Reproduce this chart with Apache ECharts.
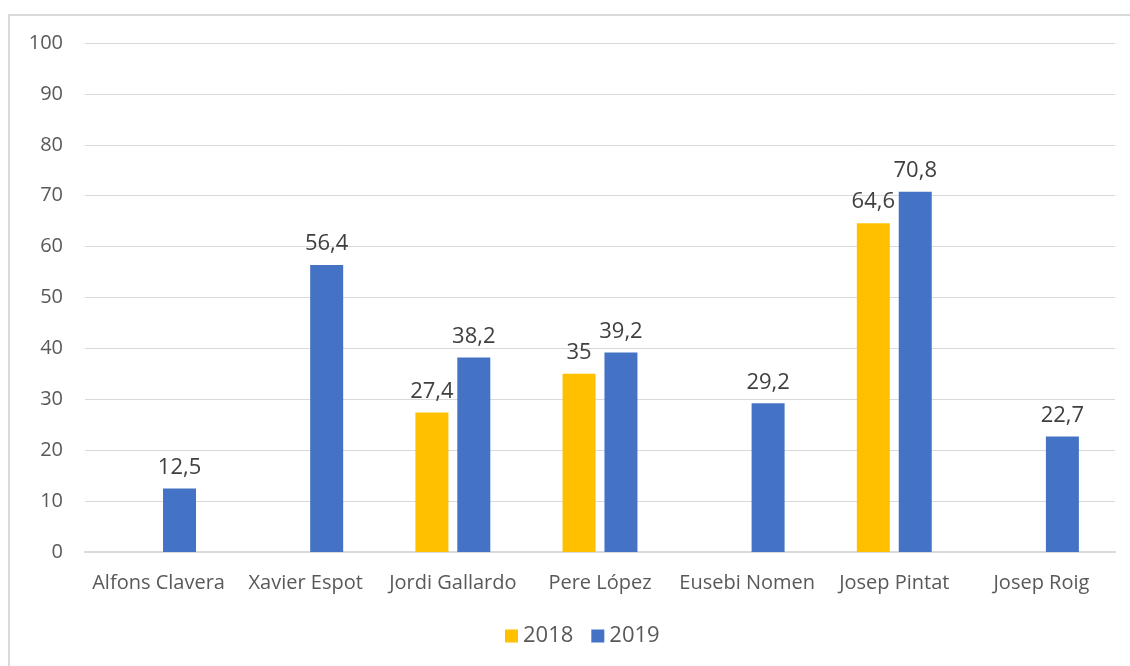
<!DOCTYPE html>
<html lang="ca" style="height: 100%">
	<head>
		<meta charset="utf-8" />
		<title></title>
		<script src="https://cdn.jsdelivr.net/npm/echarts@6/dist/echarts.min.js"></script>
	</head>
	<style>
		html,body {
			margin: 0;
			padding: 0;
			background: #FFFFFF;
		}
		#chart {
			width: 1130px;
			height: 666px;
		}
	</style>
	<body>
		<div id="chart"></div>
		<script>
			var categories = ['Alfons Clavera', 'Xavier Espot', 'Jordi Gallardo', 'Pere López', 'Eusebi Nomen', 'Josep Pintat', 'Josep Roig'];
			var years = ['2018', '2019'];
			var values2018 = [null, null, 27.4, 35, null, 64.6, null];
			var values2019 = [12.5, 56.4, 38.2, 39.2, 29.2, 70.8, 22.7];
			var colors = ['#FFC000', '#4472C4'];
			var fontName = 'Open Sans';

			// etiqueta amb coma decimal
			function fmt(p){
				return String(p.value).replace('.', ',');
			}

			function makeSeries(name, data, color){
				return {
					name: name,
					type: 'bar',
					data: data,
					barWidth: 33,
					barGap: '27%',
					itemStyle: { color: color },
					label: {
						show: true,
						position: 'top',
						distance: 10,
						formatter: fmt,
						color: '#404040',
						fontFamily: fontName,
						fontSize: 22
					}
				};
			}

			var chart = echarts.init(document.getElementById('chart'));
			chart.setOption({
				animation: false,
				grid: { left: 85, right: 15, top: 43, bottom: 114, containLabel: false },
				legend: {
					data: years,
					bottom: 14,
					left: 500,
					itemWidth: 13,
					itemHeight: 13,
					itemGap: 18,
					icon: 'rect',
					textStyle: { color: '#595959', fontFamily: fontName, fontSize: 22 }
				},
				xAxis: {
					type: 'category',
					data: categories,
					axisLine: { lineStyle: { color: '#D9D9D9', width: 2 } },
					axisTick: { show: false },
					axisLabel: { interval: 0, color: '#595959', fontFamily: fontName, fontSize: 20, margin: 21 }
				},
				yAxis: {
					type: 'value',
					min: 0,
					max: 100,
					interval: 10,
					axisLine: { show: false },
					axisTick: { show: false },
					axisLabel: { color: '#595959', fontFamily: fontName, fontSize: 20, margin: 22 },
					splitLine: { lineStyle: { color: '#D9D9D9', width: 1 } }
				},
				graphic: [{
					type: 'polyline',
					shape: { points: [[9, 666], [9, 15], [1130, 15]] },
					style: { stroke: '#D9D9D9', lineWidth: 2, fill: null },
					silent: true
				}],
				series: [
					makeSeries(years[0], values2018, colors[0]),
					makeSeries(years[1], values2019, colors[1])
				]
			});
		</script>
	</body>
</html>
